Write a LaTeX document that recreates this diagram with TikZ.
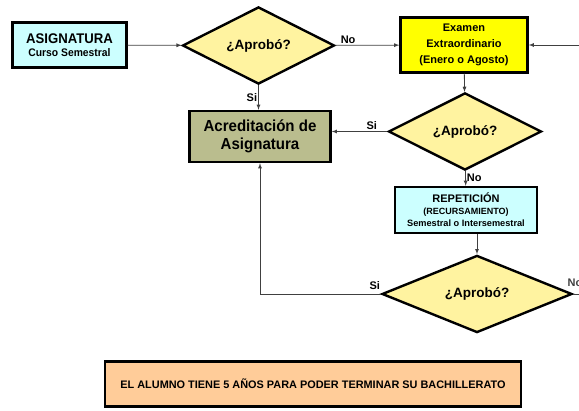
\documentclass[tikz,border=0pt]{standalone}
\usepackage{fontspec}
\setmainfont{Liberation Sans}
\newfontfamily\angosta{Liberation Sans}[FakeStretch=0.94]
\usetikzlibrary{shapes.geometric}

\definecolor{celeste}{HTML}{CCFFFF}
\definecolor{crema}{HTML}{FFF3A0}
\definecolor{amarillo}{HTML}{FFFF00}
\definecolor{oliva}{HTML}{BABD8E}
\definecolor{durazno}{HTML}{FFCC99}
\definecolor{gris}{HTML}{404040}

\begin{document}
\begin{tikzpicture}[x=1pt, y=-1pt,
	caja/.style={draw, line width=2.4pt, align=center, inner sep=0pt, font=\bfseries},
	pregunta/.style={diamond, draw, line width=2.4pt, fill=crema, inner sep=0pt, font=\bfseries\fontsize{13.5}{15}\selectfont},
	flecha/.style={draw=gris, line width=0.8pt, arrows={-latex}},
	etiq/.style={font=\bfseries\fontsize{11}{12}\selectfont, inner sep=1pt}]
	\useasboundingbox (0,0) rectangle (579,411);
	\node[caja, fill=celeste, minimum width=114pt, minimum height=45pt] (asig) at (69.5,45) {{\angosta\bfseries\fontsize{14}{15}\selectfont ASIGNATURA}\\[1pt]{\angosta\bfseries\fontsize{11}{12}\selectfont Curso Semestral}};
	\node[pregunta, minimum width=152pt, minimum height=64pt] (d1) at (258.5,45.5) {¿Aprobó?};
	\node[caja, fill=amarillo, minimum width=127pt, minimum height=55pt, font=\bfseries\fontsize{11}{16}\selectfont] (exam) at (464,45) {Examen\\Extraordinario\\(Enero o Agosto)};
	\node[caja, fill=oliva, minimum width=141pt, minimum height=51pt, font=\angosta\bfseries\fontsize{16}{18}\selectfont] (acred) at (260,136.5) {Acreditación de\\Asignatura};
	\node[pregunta, minimum width=153pt, minimum height=65pt] (d2) at (465,131.5) {¿Aprobó?};
	\node[caja, fill=celeste, minimum width=142pt, minimum height=46pt] (rep) at (466,210) {{\fontsize{11}{12}\selectfont REPETICIÓN}\\{\fontsize{9}{12}\selectfont (RECURSAMIENTO)}\\{\fontsize{9.2}{11.5}\selectfont Semestral o Intersemestral}};
	\node[pregunta, minimum width=190pt, minimum height=64pt] (d3) at (477,294) {¿Aprobó?};
	\node[caja, fill=durazno, minimum width=416pt, minimum height=45pt, font=\bfseries\fontsize{10.9}{12}\selectfont] (nota) at (313,384) {EL ALUMNO TIENE 5 AÑOS PARA PODER TERMINAR SU BACHILLERATO};
	\coordinate (vuelta) at (579,45);
	\coordinate (salida) at (579,294);
	% flechas
	\draw[flecha] (asig) -- (d1);
	\draw[flecha] (d1) -- node[etiq, above, pos=0.2] {No} (exam);
	\draw[flecha] (d1) -- node[etiq, left, pos=0.5] {Si} (d1.south |- acred.north);
	\draw[flecha] (vuelta) -- (exam);
	\draw[flecha] (exam) -- (d2);
	\draw[flecha] (d2) -- node[etiq, above, pos=0.28] {Si} (d2.west -| acred.east);
	\draw[flecha] (d2) -- node[etiq, right, pos=0.45] {No} (rep);
	\draw[flecha] (rep.south -| d3.north) -- (d3.north);
	\draw[flecha] (d3.west) node[etiq, above, xshift=-6pt, yshift=3pt] {Si} -- (d3.west -| acred.south) -- (acred.south);
	\draw[gris, line width=0.8pt] (d3.east) node[etiq, above right, xshift=-7pt, yshift=6pt] {No} -- (salida);
\end{tikzpicture}
\end{document}
